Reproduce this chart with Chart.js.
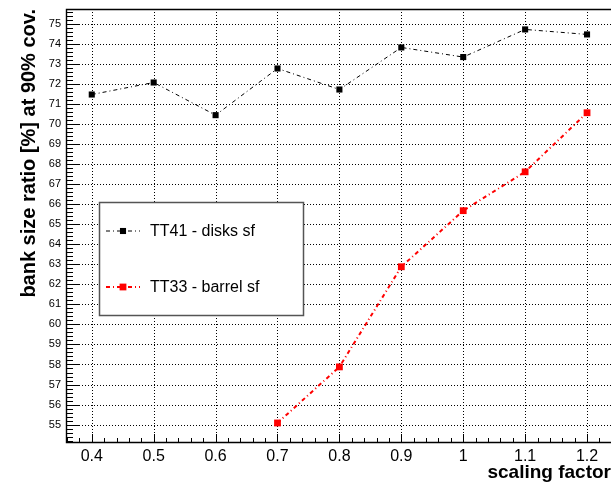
<!DOCTYPE html>
<html><head><meta charset="utf-8">
<script src="https://cdn.jsdelivr.net/npm/chart.js@4.4.1/dist/chart.umd.min.js"></script>
<style>html,body{margin:0;padding:0;background:#fff;overflow:hidden}canvas{display:block}</style>
</head><body>
<canvas id="c" width="611" height="484"></canvas>
<script>
// ---- data ----
const scalingFactors = [0.4, 0.5, 0.6, 0.7, 0.8, 0.9, 1.0, 1.1, 1.2];
const tt41Values     = [71.48, 72.08, 70.45, 72.78, 71.73, 73.83, 73.35, 74.73, 74.48];
const tt33Factors    = [0.7, 0.8, 0.9, 1.0, 1.1, 1.2];
const tt33Values     = [55.08, 57.88, 62.88, 65.68, 67.62, 70.57];
const seriesLabels   = ['TT41 - disks sf', 'TT33 - barrel sf'];
const xTickValues    = [0.4, 0.5, 0.6, 0.7, 0.8, 0.9, 1.0, 1.1, 1.2];
const xTickLabels    = ['0.4', '0.5', '0.6', '0.7', '0.8', '0.9', '1', '1.1', '1.2'];
const yTickValues    = [55,56,57,58,59,60,61,62,63,64,65,66,67,68,69,70,71,72,73,74,75];
const xTitle = 'scaling factor';
const yTitle = 'bank size ratio [%] at 90% cov.';

const FONT = '"Liberation Sans", Arial, Helvetica, sans-serif';
const X_MIN = 0.36, X_MAX = 1.2387, Y_MIN = 54.08, Y_MAX = 75.75;

const styles = [
  {color: '#000000', width: 1, dash: [4, 3, 1, 3], radius: 4.3},
  {color: '#ff0000', width: 2, dash: [4, 3, 1, 3], radius: 4.8}
];

const frameTicks = {
  id: 'frameTicks',
  beforeDatasetsDraw(chart) {
    const {ctx, chartArea: a, scales: {x, y}} = chart;
    ctx.save();
    ctx.strokeStyle = '#000';
    ctx.lineWidth = 1;
    ctx.setLineDash([1, 2]);
    ctx.beginPath();
    xTickValues.forEach(v => {
      const px = Math.round(x.getPixelForValue(v)) + 0.5;
      ctx.moveTo(px, a.top); ctx.lineTo(px, a.bottom);
    });
    yTickValues.forEach(v => {
      const py = Math.round(y.getPixelForValue(v)) + 0.5;
      ctx.moveTo(a.left, py); ctx.lineTo(a.right, py);
    });
    ctx.stroke();
    ctx.setLineDash([]);
    ctx.beginPath();
    for (let i = Math.ceil(Y_MIN * 5); i <= Math.floor(Y_MAX * 5); i++) {
      const v = i / 5;
      const major = Math.abs(v - Math.round(v)) < 1e-6;
      const py = Math.round(y.getPixelForValue(v)) + 0.5;
      ctx.moveTo(a.left, py); ctx.lineTo(a.left + (major ? 12 : 6), py);
    }
    for (let i = Math.ceil(X_MIN * 50); i <= Math.floor(X_MAX * 50); i++) {
      const v = i / 50;
      const major = i % 5 === 0;
      const px = Math.round(x.getPixelForValue(v)) + 0.5;
      ctx.moveTo(px, a.bottom); ctx.lineTo(px, a.bottom - (major ? 9 : 5));
    }
    ctx.stroke();
    ctx.beginPath();
    ctx.lineWidth = 1.4;
    ctx.moveTo(a.right + 2, a.top + 0.5);
    ctx.lineTo(a.left - 0.5, a.top + 0.5);
    ctx.lineTo(a.left - 0.5, a.bottom - 0.5);
    ctx.lineTo(a.right + 2, a.bottom - 0.5);
    ctx.stroke();
    ctx.restore();
  }
};

const boxLegend = {
  id: 'boxLegend',
  afterDatasetsDraw(chart) {
    const {ctx} = chart;
    ctx.save();
    ctx.fillStyle = '#fff';
    ctx.fillRect(99, 202, 204, 113);
    ctx.strokeStyle = '#555';
    ctx.lineWidth = 1.5;
    ctx.strokeRect(99.5, 202.5, 204, 113);
    const rows = [231, 287];
    chart.data.datasets.forEach((ds, i) => {
      const s = styles[i], yy = rows[i];
      ctx.strokeStyle = s.color;
      ctx.lineWidth = s.width;
      ctx.setLineDash(s.dash);
      ctx.beginPath(); ctx.moveTo(106, yy); ctx.lineTo(140, yy); ctx.stroke();
      ctx.setLineDash([]);
      ctx.fillStyle = s.color;
      const h = s.radius * Math.SQRT1_2;
      ctx.fillRect(123 - h, yy - h, 2 * h, 2 * h);
      ctx.fillStyle = '#000';
      ctx.font = '16px ' + FONT;
      ctx.textBaseline = 'middle';
      ctx.textAlign = 'left';
      ctx.fillText(ds.label, 150, yy + 1);
    });
    ctx.restore();
  }
};

function mkData(xs, ys) { return xs.map((v, i) => ({x: v, y: ys[i]})); }

new Chart(document.getElementById('c'), {
  type: 'line',
  data: {
    datasets: [
      {label: seriesLabels[0], data: mkData(scalingFactors, tt41Values)},
      {label: seriesLabels[1], data: mkData(tt33Factors, tt33Values)}
    ].map((d, i) => Object.assign(d, {
      borderColor: styles[i].color, backgroundColor: styles[i].color,
      borderWidth: styles[i].width, borderDash: styles[i].dash,
      pointStyle: 'rect', pointRadius: styles[i].radius, pointBorderWidth: 0,
      pointBackgroundColor: styles[i].color, tension: 0, fill: false
    }))
  },
  options: {
    responsive: false, animation: false, devicePixelRatio: 1,
    layout: {autoPadding: false, padding: {top: 9, left: 0, right: 0, bottom: 0}},
    plugins: {legend: {display: false}, tooltip: {enabled: false}},
    scales: {
      x: {
        type: 'linear', min: X_MIN, max: X_MAX,
        grid: {display: false, drawTicks: false}, border: {display: false},
        afterBuildTicks: s => { s.ticks = xTickValues.map(v => ({value: v})); },
        afterFit: s => { s.height = 41; s.paddingLeft = 0; s.paddingRight = 0; },
        ticks: {
          color: '#000', padding: 4, maxRotation: 0, autoSkip: false,
          font: {family: FONT, size: 16},
          callback: v => { const k = xTickValues.findIndex(t => Math.abs(t - v) < 1e-6); return k >= 0 ? xTickLabels[k] : ''; }
        },
        title: {display: true, text: xTitle, align: 'end', color: '#000',
          font: {family: FONT, size: 19, weight: 'bold'}, padding: {top: 0, bottom: 0}}
      },
      y: {
        type: 'linear', min: Y_MIN, max: Y_MAX,
        grid: {display: false, drawTicks: false}, border: {display: false},
        afterBuildTicks: s => { s.ticks = yTickValues.map(v => ({value: v})); },
        afterFit: s => { s.width = 67; s.paddingTop = 0; s.paddingBottom = 0; },
        ticks: {color: '#000', padding: 6, autoSkip: false, font: {family: FONT, size: 11},
          callback: v => String(v)},
        title: {display: true, text: yTitle, align: 'end', color: '#000',
          font: {family: FONT, size: 20, weight: 'bold'}, padding: {top: 17, bottom: 0}}
      }
    }
  },
  plugins: [frameTicks, boxLegend]
});
</script>
</body></html>
